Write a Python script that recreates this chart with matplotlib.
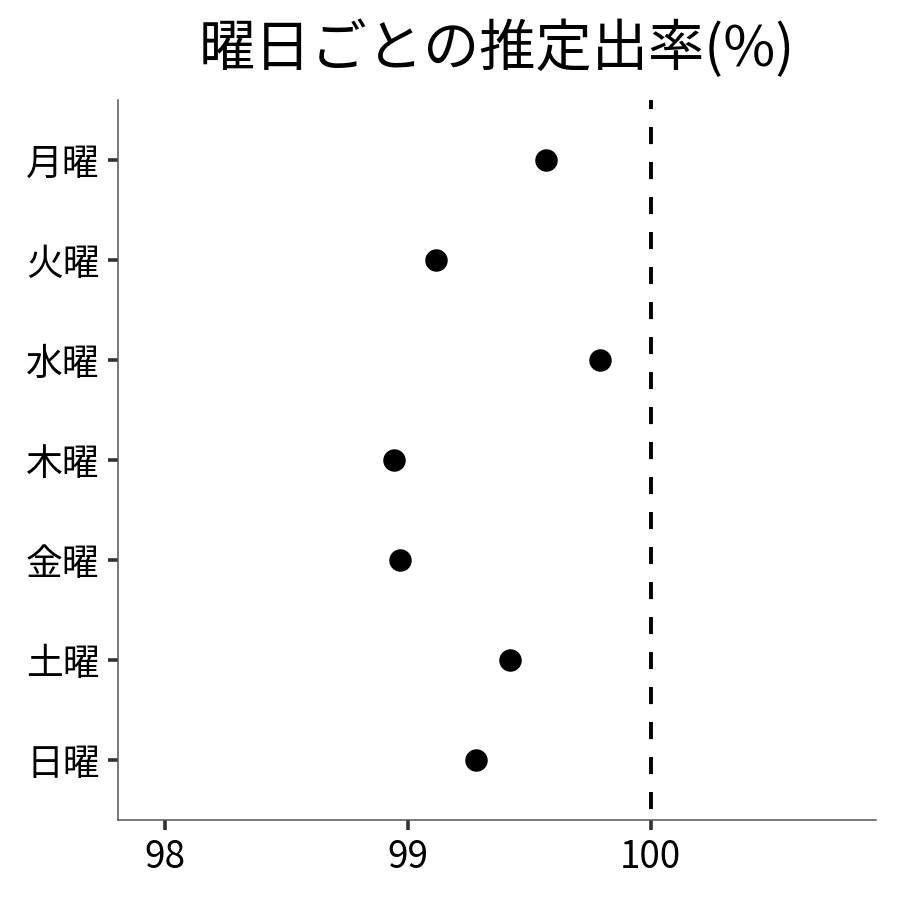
import numpy as np
import matplotlib
matplotlib.use("Agg")
import matplotlib.pyplot as plt

plt.rcParams['font.family'] = ['Noto Sans CJK JP', 'DejaVu Sans']

# estimated rate per weekday (%)
days = ['月曜', '火曜', '水曜', '木曜', '金曜', '土曜', '日曜']
rate = [99.57, 99.115, 99.79, 98.945, 98.97, 99.42, 99.28]
xticks = [98, 99, 100]
ref_line = 100

fig, ax = plt.subplots(figsize=(9, 9), dpi=100)
fig.subplots_adjust(left=0.131, right=0.973, top=0.889, bottom=0.089)

ypos = np.arange(len(days))[::-1]
ax.scatter(rate, ypos, s=230, color='black', zorder=3)
ax.axvline(ref_line, color='black', lw=2.8, linestyle=(6.2, (4.4, 4.6)), zorder=2)

ax.set_xlim(97.807, 100.926)
ax.set_ylim(-0.6, len(days) - 0.4)
ax.set_xticks(xticks)
ax.set_xticklabels([str(t) for t in xticks])
ax.set_yticks(ypos)
ax.set_yticklabels(days)
ax.tick_params(axis='both', labelsize=26.5, colors='#333333', labelcolor='black',
               width=2.6, length=7.2, pad=6)

for side in ['top', 'right']:
    ax.spines[side].set_visible(False)
for side in ['left', 'bottom']:
    ax.spines[side].set_color('#555555')
    ax.spines[side].set_linewidth(1.1)

ax.set_title('曜日ごとの推定出率(%)', fontsize=40.5, pad=24)

fig.savefig('out.png', dpi=100)
